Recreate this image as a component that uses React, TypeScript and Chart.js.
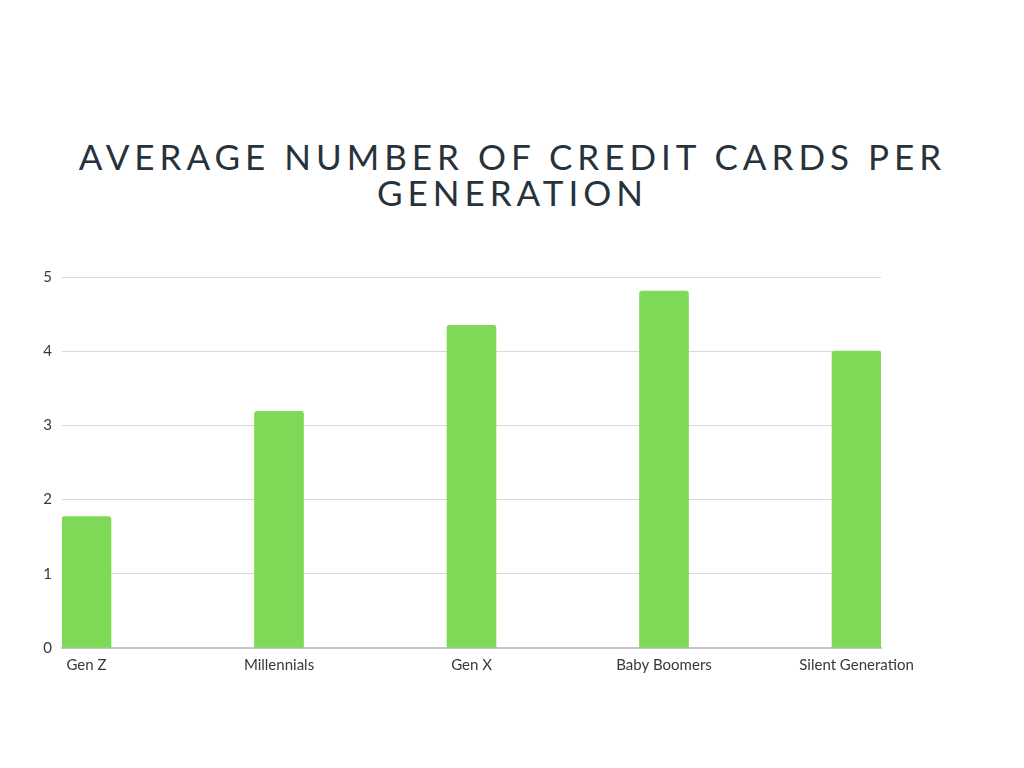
import React, { useEffect, useRef } from "react";
import { Chart, registerables } from "chart.js";

Chart.register(...registerables);

const titleLines = ["AVERAGE NUMBER OF CREDIT CARDS PER", "GENERATION"];
const categories = ["Gen Z", "Millennials", "Gen X", "Baby Boomers", "Silent Generation"];
const cardCounts = [1.77, 3.19, 4.35, 4.81, 4.0];
const yTicks = [0, 1, 2, 3, 4, 5];

const BAR_COLOR = "#7ed957";
const TEXT_COLOR = "#333a40";

export default function App() {
  const canvasRef = useRef<HTMLCanvasElement | null>(null);

  useEffect(() => {
    const canvas = canvasRef.current;
    if (!canvas) return;
    const halfBar = 24.5 / 192.5;
    const chart = new Chart(canvas, {
      type: "bar",
      data: {
        datasets: [
          {
            data: categories.map((c, i) => ({ x: i, y: cardCounts[i] })),
            backgroundColor: BAR_COLOR,
            barThickness: 49,
            borderRadius: 3,
            borderSkipped: "bottom",
          },
        ],
      },
      options: {
        responsive: false,
        animation: false,
        layout: { padding: { top: 277, right: 143, bottom: 80, left: 0 } },
        plugins: {
          legend: { display: false },
          title: { display: false },
          tooltip: { enabled: false },
        },
        scales: {
          x: {
            type: "linear",
            offset: false,
            min: -halfBar,
            max: categories.length - 1 + halfBar,
            grid: { display: false, drawTicks: false, offset: false },
            border: { display: true, color: "#c3c5c8", width: 2 },
            afterFit: (scale: any) => {
              scale.height = 40;
            },
            ticks: {
              includeBounds: false,
              stepSize: 1,
              autoSkip: false,
              maxRotation: 0,
              padding: 8,
              color: TEXT_COLOR,
              font: { family: "Lato", size: 15 },
              callback: (v: any) => {
                const n = Number(v);
                return Number.isInteger(n) && categories[n] !== undefined ? categories[n] : "";
              },
            },
          },
          y: {
            min: yTicks[0],
            max: yTicks[yTicks.length - 1],
            grid: { color: "#d9d9d9", lineWidth: 1, drawTicks: false },
            border: { display: false },
            afterFit: (scale: any) => {
              scale.width = 62;
            },
            afterBuildTicks: (scale: any) => {
              scale.ticks = yTicks.map((v) => ({ value: v }));
            },
            ticks: {
              padding: 10,
              color: TEXT_COLOR,
              font: { family: "Lato", size: 15 },
            },
          },
        },
      },
    });
    return () => chart.destroy();
  }, []);

  return (
    <div style={{ position: "absolute", left: 0, top: 0, width: 1024, height: 768, background: "#fff" }}>
      <div
        style={{
          position: "absolute",
          left: 0,
          top: 138,
          width: 1024,
          textAlign: "center",
          fontFamily: "Lato",
          fontSize: 35,
          lineHeight: "36px",
          letterSpacing: "5px",
          paddingLeft: 1,
          boxSizing: "border-box",
          color: "#27323b",
        }}
      >
        {titleLines.map((t, i) => (
          <div key={i}>{t}</div>
        ))}
      </div>
      <canvas ref={canvasRef} width={1024} height={768} style={{ position: "absolute", left: 0, top: 0 }} />
    </div>
  );
}
